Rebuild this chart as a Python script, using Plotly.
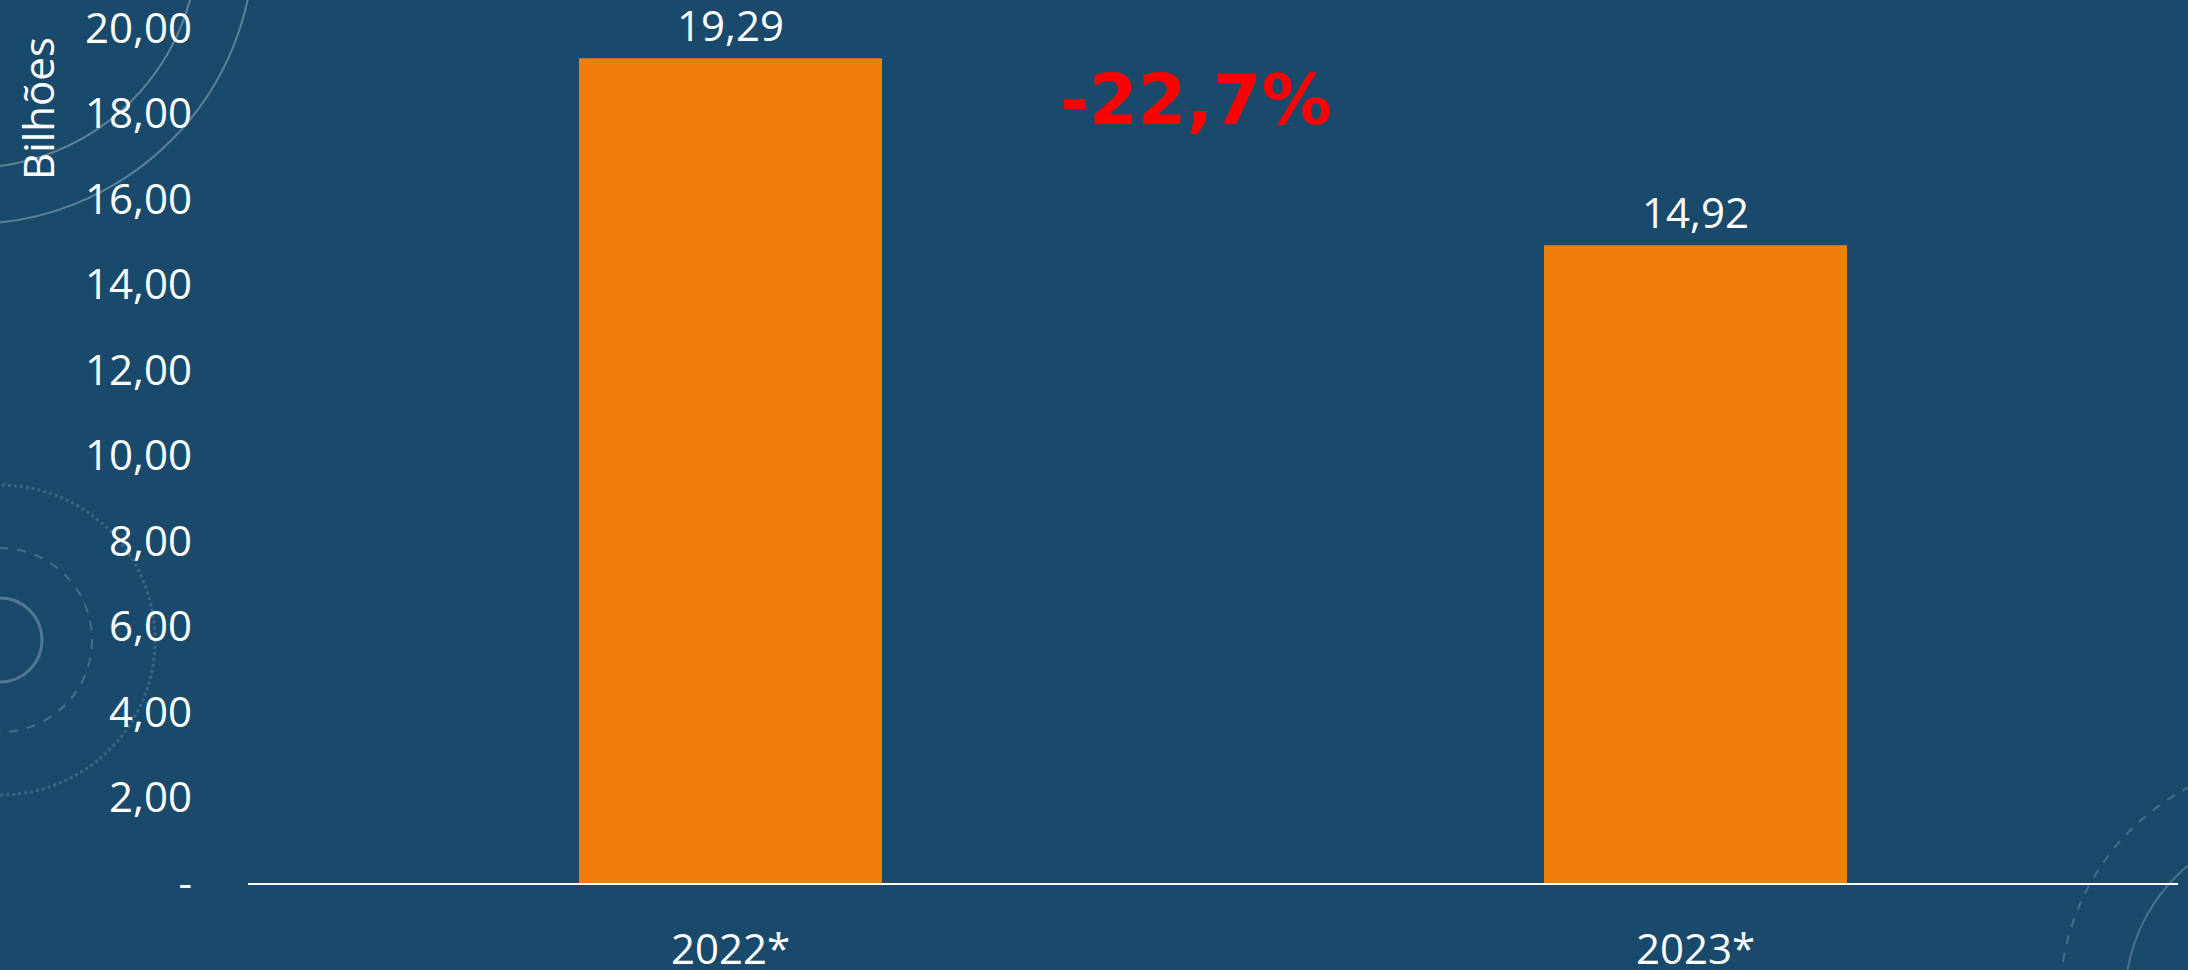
import plotly.graph_objects as go

# Dados (bilhões)
anos = ["2022*", "2023*"]
valores = [19.29, 14.92]
variacao = "-22,7%"

tick_vals = [0, 2, 4, 6, 8, 10, 12, 14, 16, 18, 20]
tick_text = ["-", "2,00", "4,00", "6,00", "8,00", "10,00",
             "12,00", "14,00", "16,00", "18,00", "20,00"]

W, H = 2188, 970
L, R, T, B = 248, 10, 28, 87
FONT = "Open Sans"
FS = 42


def px_to_paper(x, y):
    # converte pixels da página em coordenadas "paper" da área do gráfico
    return (x - L) / (W - L - R), (H - B - y) / (H - T - B)


def circle(cx, cy, r, dash="solid", width=2, opacity=0.22):
    x0, y0 = px_to_paper(cx - r, cy + r)
    x1, y1 = px_to_paper(cx + r, cy - r)
    return dict(type="circle", xref="paper", yref="paper",
                x0=x0, y0=y0, x1=x1, y1=y1, layer="below",
                line=dict(color=f"rgba(255,255,255,{opacity})", width=width, dash=dash))


fig = go.Figure()
fig.add_trace(go.Bar(
    x=anos, y=valores,
    marker=dict(color="#f07f09", line=dict(width=0)),
    width=0.314,
    hovertemplate="%{x}: %{y:.2f}<extra></extra>",
))

# rótulos de valor acima das barras
for ano, v in zip(anos, valores):
    fig.add_annotation(x=ano, y=v, text=f"{v:.2f}".replace(".", ","),
                       showarrow=False, yshift=34, yanchor="middle",
                       font=dict(color="white", size=FS, family=FONT))

# decoração de fundo (arcos tipo bússola)
shapes = [
    circle(-30, -60, 284, width=2, opacity=0.3),
    circle(-30, -60, 228, width=2, opacity=0.3),
    circle(0, 640, 42, width=3, opacity=0.25),
    circle(0, 640, 92, dash="dash", opacity=0.2),
    circle(0, 640, 155, dash="dot", width=3, opacity=0.15),
    circle(2300, 1000, 240, dash="dash", opacity=0.2),
    circle(2300, 1000, 175, width=2, opacity=0.22),
]

ax, ay = px_to_paper(1196, 100)
fig.add_annotation(text=f"<b>{variacao}</b>", x=ax, y=ay, xref="paper", yref="paper",
                   showarrow=False, font=dict(color="#ff0000", size=70, family="DejaVu Sans"),
                   xanchor="center", yanchor="middle")
tx, ty = px_to_paper(38, 109)
fig.add_annotation(text="Bilhões", x=tx, y=ty, xref="paper", yref="paper",
                   showarrow=False, textangle=-90,
                   font=dict(color="white", size=42, family=FONT),
                   xanchor="center", yanchor="middle")

fig.update_layout(
    width=W, height=H,
    margin=dict(l=L, r=R, t=T, b=B),
    paper_bgcolor="#1a4a6b",
    plot_bgcolor="rgba(0,0,0,0)",
    separators=",.",
    showlegend=False,
    shapes=shapes,
    font=dict(family=FONT, color="white", size=FS),
    xaxis=dict(
        showline=True, linecolor="white", linewidth=2,
        showgrid=False, ticks="", ticklabelstandoff=29,
        tickfont=dict(size=FS, color="white"), automargin=False,
    ),
    yaxis=dict(
        range=[0, 20], showgrid=False, zeroline=False, showline=False,
        tickvals=tick_vals, ticktext=tick_text, ticks="",
        ticklabelstandoff=55, tickfont=dict(size=FS, color="white"),
        automargin=False, ticklabeloverflow="allow",
    ),
)

fig.write_html(
    "out.html",
    config={"displayModeBar": False},
    post_script="document.body.style.margin='0';document.body.style.overflow='hidden';",
)
